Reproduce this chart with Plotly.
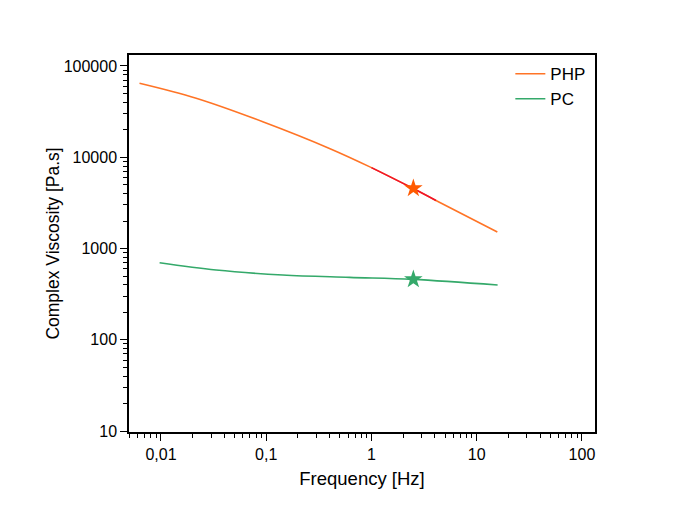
import plotly.graph_objects as go

# PHP complex viscosity curve
php_freq = [0.00625, 0.0216, 0.0927, 0.399, 1.0, 2.47, 4.1, 15.7]
php_visc = [64600, 44300, 24500, 12500, 7700, 4570, 3360, 1517]
# highlighted (red) part of the PHP curve
php_hl_freq = [1.0, 2.47, 4.1]
php_hl_visc = [7700, 4570, 3360]
# PC complex viscosity curve
pc_freq = [0.0097, 0.0334, 0.1436, 0.618, 2.47, 15.8]
pc_visc = [698, 581, 513, 483, 459, 398]
# star markers
star_freq = [2.5, 2.5]
star_visc = [4570, 459]

x_tickvals = [0.01, 0.1, 1, 10, 100]
x_ticktext = ["0,01", "0,1", "1", "10", "100"]
y_tickvals = [10, 100, 1000, 10000, 100000]
y_ticktext = ["10", "100", "1000", "10000", "100000"]

ORANGE = "#ff7426"
GREEN = "#34a96a"
FONT = "Liberation Sans, Arial"

fig = go.Figure()
fig.add_trace(go.Scatter(x=php_freq, y=php_visc, mode="lines", name="PHP",
                         line=dict(color=ORANGE, width=1.6, shape="spline")))
fig.add_trace(go.Scatter(x=pc_freq, y=pc_visc, mode="lines", name="PC",
                         line=dict(color=GREEN, width=1.6, shape="spline")))
fig.add_trace(go.Scatter(x=php_hl_freq, y=php_hl_visc, mode="lines", showlegend=False,
                         line=dict(color="#f0142a", width=1.6, shape="spline")))
fig.add_trace(go.Scatter(x=star_freq, y=star_visc, mode="markers", showlegend=False,
                         marker=dict(symbol="star", size=14, color=["#ff5a00", GREEN],
                                     line=dict(width=0))))

axis_common = dict(
    type="log", showgrid=False, zeroline=False,
    showline=True, linecolor="black", linewidth=1.5, mirror=True,
    ticks="outside", ticklen=7, tickwidth=1.2, tickcolor="black",
    tickfont=dict(family=FONT, size=16, color="black"),
    minor=dict(ticks="outside", ticklen=4, tickwidth=1, tickcolor="black", dtick="D1", showgrid=False),
)

fig.update_xaxes(**axis_common, range=[-2.304, 2.124],
                 tickvals=x_tickvals, ticktext=x_ticktext,
                 title=dict(text="Frequency [Hz]", standoff=10,
                            font=dict(family=FONT, size=18.5, color="black")))
fig.update_yaxes(**axis_common, range=[0.99, 5.12],
                 tickvals=y_tickvals, ticktext=y_ticktext,
                 title=dict(text="Complex Viscosity [Pa.s]", standoff=0,
                            font=dict(family=FONT, size=17.5, color="black")))

fig.update_layout(
    width=676, height=514,
    margin=dict(l=121, r=89, t=47, b=90),
    paper_bgcolor="white", plot_bgcolor="white",
    font=dict(family=FONT, color="black"),
    legend=dict(x=0.99, y=0.997, xanchor="right", yanchor="top",
                bgcolor="rgba(0,0,0,0)", borderwidth=0,
                font=dict(size=17, color="black"), tracegroupgap=0,
                itemwidth=30),
    showlegend=True,
)

fig.write_html("out.html")
